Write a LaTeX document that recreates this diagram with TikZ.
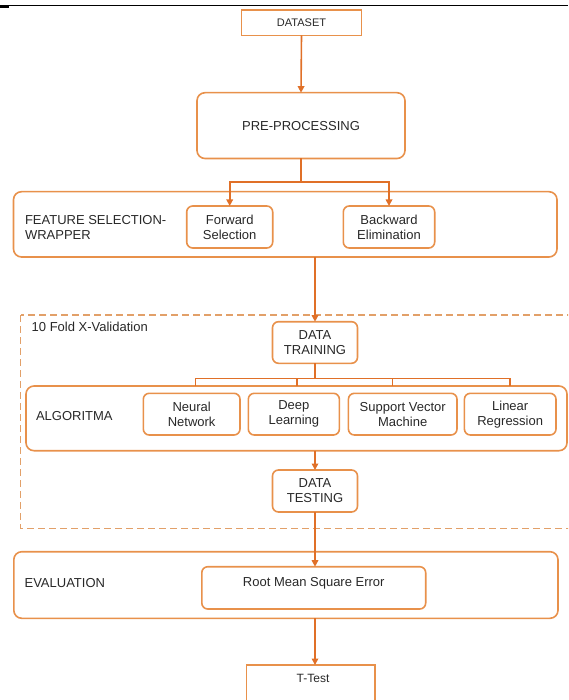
\documentclass[tikz,border=0pt]{standalone}
\usepackage{fontspec}
\setmainfont{Liberation Sans}
\usetikzlibrary{arrows.meta,calc}
\definecolor{boxc}{RGB}{232,145,75}
\definecolor{linec}{RGB}{224,112,40}
\definecolor{dashc}{RGB}{226,160,105}
\definecolor{txt}{RGB}{40,40,40}
\begin{document}
\begin{tikzpicture}[x=1pt,y=-1pt,
  every node/.style={text=txt, font=\fontsize{13}{15}\selectfont, inner sep=0pt, outer sep=0pt},
  sqbox/.style={draw=boxc, line width=1.6pt, rectangle},
  rbox/.style={draw=boxc, line width=1.6pt, rectangle, rounded corners=8pt, align=center},
  ibox/.style={draw=boxc, line width=1.6pt, rectangle, rounded corners=6pt, align=center},
  conn/.style={draw=linec, line width=1.6pt},
  arr/.style={conn, -{Triangle[length=6.5pt,width=6.5pt]}},
  lbl/.style={anchor=west, align=left}
]
\path[use as bounding box, clip] (0,0) rectangle (568,700);

% top rule
\draw[black, line width=1pt] (0,6) -- (568,6);
\fill[black] (0,5.5) rectangle (9,8);

% dashed cross-validation frame
\draw[dashc, line width=1.4pt, dash pattern=on 7pt off 4pt] (20.7,315) rectangle (590,528.3);
\node[lbl] (cvlbl) at (31.7,327.3) {10 Fold X-Validation};

% boxes
\node[sqbox, minimum width=120pt, minimum height=25.5pt, font=\fontsize{11}{13}\selectfont] (dataset) at (301.5,22.75) {DATASET};
\node[rbox, minimum width=208pt, minimum height=65.8pt] (pre) at (301,125.6) {PRE-PROCESSING};

\node[rbox, minimum width=543.5pt, minimum height=65.3pt] (feat) at (285.25,224.35) {};
\node[lbl] (featlbl) at (25,227.5) {FEATURE SELECTION-\\WRAPPER};
\node[ibox, minimum width=86pt, minimum height=42pt] (fwd) at (229.7,227) {Forward\\Selection};
\node[ibox, minimum width=91.4pt, minimum height=42pt] (bwd) at (389,227) {Backward\\Elimination};

\node[ibox, minimum width=85pt, minimum height=41.6pt] (dt) at (315,342.5) {DATA\\TRAINING};

\node[rbox, minimum width=541pt, minimum height=64.7pt] (alg) at (296.5,418.35) {};
\node[lbl] (alglbl) at (36,416) {ALGORITMA};
\node[ibox, minimum width=96.7pt, minimum height=41.7pt] (nn) at (191.65,414.15) {Neural\\Network};
\node[ibox, minimum width=91.1pt, minimum height=41.7pt] (dl) at (293.85,414.15) {Deep\\Learning};
\node[ibox, minimum width=108.6pt, minimum height=41.7pt] (svm) at (402.7,414.15) {Support Vector\\Machine};
\node[ibox, minimum width=91.6pt, minimum height=41.7pt] (lr) at (510.2,414.15) {Linear\\Regression};

\node[ibox, minimum width=85pt, minimum height=42pt] (dtest) at (315,491) {DATA\\TESTING};

\node[rbox, minimum width=544.2pt, minimum height=66.6pt] (eval) at (285.9,585) {};
\node[lbl] (evallbl) at (24.6,583.3) {EVALUATION};
\node[ibox, minimum width=223.9pt, minimum height=42.3pt] (rmse) at (313.75,587.85) {};
\node (rmselbl) at (313.75,583.3) {Root Mean Square Error};

\node[sqbox, anchor=north, minimum width=128.5pt, minimum height=60pt] (ttest) at (310.75,665) {};
\node[font=\fontsize{12}{14}\selectfont] (ttlbl) at (313,678.3) {T-Test};

% connectors
\draw[arr] (dataset.south) -- (pre.north);
\coordinate (split) at (301,182);
\draw[conn] (pre.south) -- (split);
\draw[arr] (split) -| (fwd.north);
\draw[arr] (split) -| (bwd.north);

\draw[arr] (feat.south -| dt.north) -- (dt.north);

\coordinate (bmid) at (315,378.3);
\coordinate (b1) at (195.6,378.3);
\coordinate (b2) at (297,378.3);
\coordinate (b3) at (392.3,378.3);
\coordinate (b4) at (510,378.3);
\draw[conn] (dt.south) -- (bmid);
\draw[conn] (b1) -- (b4);
\draw[conn] (b1) -- (b1 |- alg.north);
\draw[conn] (b2) -- (b2 |- alg.north);
\draw[conn] (b3) -- (b3 |- alg.north);
\draw[conn] (b4) -- (b4 |- alg.north);

\draw[arr] (alg.south -| dtest.north) -- (dtest.north);
\draw[arr] (dtest.south) -- (dtest.south |- rmse.north);
\draw[arr] (eval.south -| dtest.south) -- (ttest.north -| dtest.south);
\end{tikzpicture}
\end{document}
